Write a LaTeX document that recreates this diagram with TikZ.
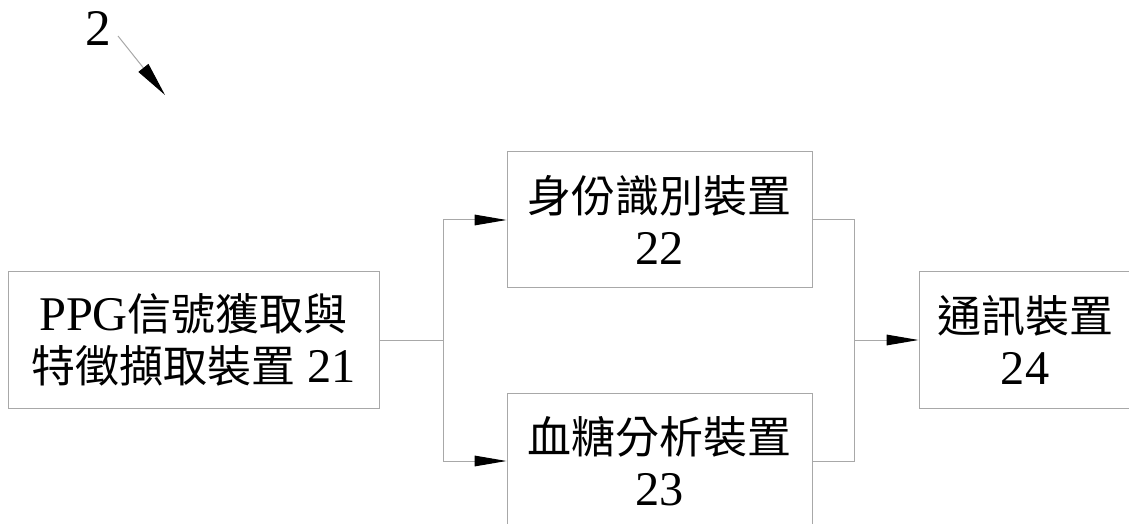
\documentclass[tikz,border=0pt]{standalone}
\usepackage{fontspec}
\setmainfont{Liberation Serif}[Scale=1.1]
\newfontfamily\cjk{Noto Sans CJK TC}
\usetikzlibrary{arrows.meta}
\definecolor{linegray}{HTML}{A8A8A8}
\tikzset{
  blk/.style={draw=linegray, line width=0.75pt, inner sep=0pt, align=center,
    font=\fontsize{33pt}{39pt}\selectfont},
  conn/.style={draw=linegray, line width=0.75pt},
  arr/.style={conn, -{Triangle[length=24pt,width=8pt,color=black]}},
  lblarr/.style={conn, -{Triangle[length=26pt,width=9.5pt,color=black]}}
}
\begin{document}
\begin{tikzpicture}[x=0.75pt,y=-0.75pt]
\useasboundingbox (0,0) rectangle (1129,524);
\clip (0,0) rectangle (1129,524);
\node[blk, minimum width=278.25pt, minimum height=102pt] (b21) at (193.5,340)
  {PPG{\cjk 信號獲取與}\\{\cjk 特徵擷取裝置} 21};
\node[blk, minimum width=228.75pt, minimum height=102pt] (b22) at (659.5,220)
  {{\cjk 身份識別裝置}\\22};
\node[blk, minimum width=228.75pt, minimum height=102pt] (b23) at (659.5,461)
  {{\cjk 血糖分析裝置}\\23};
\node[blk, minimum width=159pt, minimum height=102pt] (b24) at (1025,340)
  {{\cjk 通訊裝置}\\24};
\coordinate (j1) at (443,340);
\coordinate (j2) at (854,340);
\draw[conn] (b21.east) -- (j1);
\draw[arr] (j1) |- (b22.west);
\draw[arr] (j1) |- (b23.west);
\draw[conn] (b22.east) -| (j2);
\draw[conn] (b23.east) -| (j2);
\draw[arr] (j2) -- (b24.west);
\node[font=\fontsize{35pt}{39pt}\selectfont, inner sep=0pt] (lbl) at (98,29) {2};
\coordinate (a2s) at (118,36);
\coordinate (a2e) at (165,95);
\draw[lblarr] (a2s) -- (a2e);
\end{tikzpicture}
\end{document}
